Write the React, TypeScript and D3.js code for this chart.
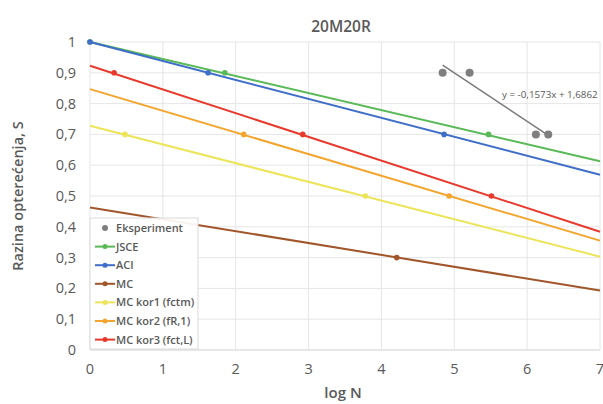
import React from "react";
import * as d3 from "d3";

const title = "20M20R";
const xTicks = [0, 1, 2, 3, 4, 5, 6, 7];
const yTicks = [0, 0.1, 0.2, 0.3, 0.4, 0.5, 0.6, 0.7, 0.8, 0.9, 1];

const seriesNames = ["JSCE", "ACI", "MC", "MC kor1 (fctm)", "MC kor2 (fR,1)", "MC kor3 (fct,L)"];
const seriesColors = ["#58b956", "#3f6ec8", "#a0562a", "#ece55a", "#f3a52e", "#e8392c"];
// line endpoints at logN = 0 and logN = 7
const lineStart = [1.0, 1.0, 0.463, 0.728, 0.847, 0.923];
const lineEnd = [0.613, 0.569, 0.193, 0.303, 0.355, 0.384];
// marker points [logN, S]
const seriesMarkers: [number, number][][] = [
  [[0, 1], [1.85, 0.9], [5.47, 0.7]],
  [[0, 1], [1.62, 0.9], [4.86, 0.7]],
  [[4.21, 0.3]],
  [[0.48, 0.7], [3.78, 0.5]],
  [[2.11, 0.7], [4.93, 0.5]],
  [[0.33, 0.9], [2.92, 0.7], [5.51, 0.5]],
];

const expX = [4.84, 5.21, 6.12, 6.29];
const expY = [0.9, 0.9, 0.7, 0.7];
const trendSlope = -0.1573;
const trendIntercept = 1.6862;
const trendLabel = "y = -0,1573x + 1,6862";

const W = 603, H = 404;
const M = { left: 90, right: 600, top: 42, bottom: 350 };
const FONT = "'Open Sans', 'Noto Sans', sans-serif";
const TXT = "#595959";

export default function App() {
  const x = d3.scaleLinear().domain([0, 7]).range([M.left, M.right]);
  const y = d3.scaleLinear().domain([0, 1]).range([M.bottom, M.top]);
  const fmt = (v: number) => (v === 0 || v === 1 ? String(v) : v.toFixed(1).replace(".", ","));
  const line = d3.line<[number, number]>().x(d => x(d[0])).y(d => y(d[1]));
  const tx0 = d3.min(expX)!, tx1 = d3.max(expX)!;

  const legendItems = ["Eksperiment", ...seriesNames];
  const legX = 90, legY = 218, legW = 108, legH = 131, legStep = 18.6;

  return (
    <svg width={W} height={H} style={{ position: "absolute", left: 0, top: 0, fontFamily: FONT }}>
      <rect width={W} height={H} fill="#fff" />
      <text x={341} y={32} textAnchor="middle" fontSize={15.5} fill={TXT} fontWeight={600}>{title}</text>
      {/* grid */}
      {yTicks.map(t => (
        <line key={"gy" + t} x1={M.left} x2={M.right} y1={y(t)} y2={y(t)} stroke={t === 0 ? "#cfcfcf" : "#e6e6e6"} strokeWidth={1} />
      ))}
      {xTicks.map(t => (
        <line key={"gx" + t} x1={x(t)} x2={x(t)} y1={M.top} y2={M.bottom} stroke="#e6e6e6" strokeWidth={1} />
      ))}
      {/* tick labels */}
      {yTicks.map(t => (
        <text key={"ty" + t} x={76} y={y(t) + 5} textAnchor="end" fontSize={14.5} fill={TXT}>{fmt(t)}</text>
      ))}
      {xTicks.map(t => (
        <text key={"tx" + t} x={x(t)} y={374} textAnchor="middle" fontSize={14.5} fill={TXT}>{t}</text>
      ))}
      <text x={343} y={398} textAnchor="middle" fontSize={15} fill={TXT} fontWeight={600}>log N</text>
      <text transform={`translate(23,196) rotate(-90)`} textAnchor="middle" fontSize={14.5} fill={TXT} fontWeight={600}>Razina opterećenja, S</text>
      {/* series */}
      {seriesNames.map((n, i) => (
        <g key={n}>
          <path d={line([[0, lineStart[i]], [7, lineEnd[i]]])!} stroke={seriesColors[i]} strokeWidth={2} fill="none" />
          {seriesMarkers[i].map((p, j) => (
            <circle key={j} cx={x(p[0])} cy={y(p[1])} r={2.8} fill={seriesColors[i]} />
          ))}
        </g>
      ))}
      {/* experiment */}
      <line x1={x(tx0)} y1={y(trendSlope * tx0 + trendIntercept)} x2={x(tx1)} y2={y(trendSlope * tx1 + trendIntercept)} stroke="#7a7a7a" strokeWidth={1.5} />
      {expX.map((v, i) => (
        <circle key={"e" + i} cx={x(v)} cy={y(expY[i])} r={4} fill="#7f7f7f" />
      ))}
      <text x={502} y={98} fontSize={9.8} fill={TXT}>{trendLabel}</text>
      {/* legend */}
      <rect x={legX} y={legY} width={legW} height={legH} fill="#fff" fillOpacity={0.92} stroke="#d9d9d9" strokeWidth={1} />
      {legendItems.map((n, i) => {
        const cy = legY + 10 + i * legStep;
        return (
          <g key={"l" + n}>
            {i === 0 ? (
              <circle cx={105} cy={cy} r={3} fill="#7f7f7f" />
            ) : (
              <g>
                <line x1={95} x2={115} y1={cy} y2={cy} stroke={seriesColors[i - 1]} strokeWidth={2} />
                <circle cx={105} cy={cy} r={2.5} fill={seriesColors[i - 1]} />
              </g>
            )}
            <text x={116} y={cy + 4} fontSize={11} fill={TXT} fontWeight={600}>{n}</text>
          </g>
        );
      })}
    </svg>
  );
}
